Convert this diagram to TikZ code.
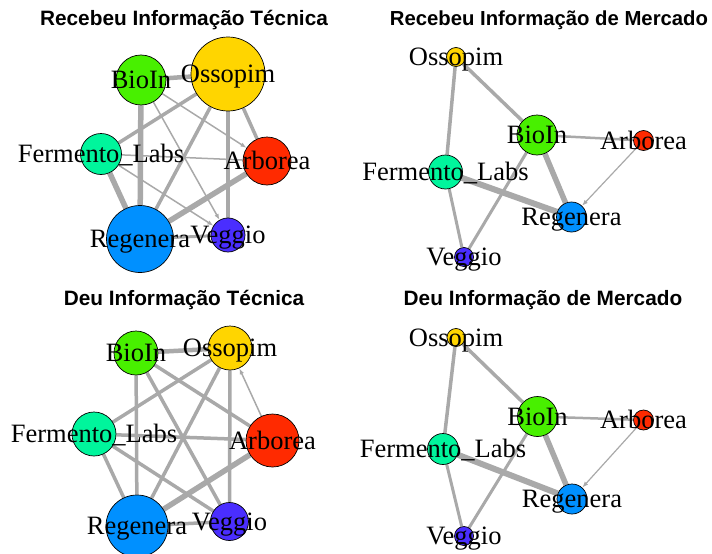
\documentclass[tikz,border=0pt]{standalone}
\usepackage{fontspec}
\setmainfont{Liberation Serif}
\newfontfamily\ttlfont{Liberation Sans}
\usetikzlibrary{arrows.meta}
\definecolor{edgegray}{HTML}{A9A9A9}
\definecolor{cBio}{HTML}{48F000}
\definecolor{cOss}{HTML}{FFD500}
\definecolor{cFer}{HTML}{00F59C}
\definecolor{cArb}{HTML}{FF2A00}
\definecolor{cReg}{HTML}{0090FF}
\definecolor{cVeg}{HTML}{4A2EFF}
\pgfdeclarelayer{bg}
\pgfdeclarelayer{fg}
\pgfsetlayers{bg,main,fg}
\tikzset{
  vtx/.style={circle, draw=black, line width=0.7pt, inner sep=0pt, minimum size=#1},
  edg/.style={draw=edgegray, line width=#1},
  arr/.style={-{Latex[length=6pt,width=4.5pt]}},
  lbl/.style={anchor=base, inner sep=0pt, yshift=-8.5pt, font=\fontsize{26.5}{26.5}\selectfont},
  ttl/.style={anchor=base, inner sep=0pt, font=\ttlfont\bfseries\fontsize{20.8}{20.8}\selectfont}
}
\begin{document}
\begin{tikzpicture}[x=1pt,y=-1pt]
\useasboundingbox (0,0) rectangle (712,554);
% titles
\node[ttl] (t1) at (184,25) {Recebeu Informação Técnica};
\node[ttl, font=\ttlfont\bfseries\fontsize{20.3}{20.3}\selectfont] (t2) at (549,25) {Recebeu Informação de Mercado};
\node[ttl] (t3) at (184,305) {Deu Informação Técnica};
\node[ttl] (t4) at (543,305) {Deu Informação de Mercado};
% ---------- panel A (top left)
\node[vtx=50, fill=cBio] (aBio) at (141,80) {};
\node[vtx=74, fill=cOss] (aOss) at (228,74) {};
\node[vtx=41, fill=cFer] (aFer) at (101,154) {};
\node[vtx=48, fill=cArb] (aArb) at (267,161) {};
\node[vtx=67, fill=cReg] (aReg) at (140,239) {};
\node[vtx=34, fill=cVeg] (aVeg) at (228,235) {};
% ---------- panel B (top right)
\node[vtx=19, fill=cOss] (bOss) at (456,57) {};
\node[vtx=40, fill=cBio] (bBio) at (537,135) {};
\node[vtx=20, fill=cArb] (bArb) at (643.5,140.5) {};
\node[vtx=34, fill=cFer] (bFer) at (445.5,172) {};
\node[vtx=30, fill=cReg] (bReg) at (571.5,217) {};
\node[vtx=19, fill=cVeg] (bVeg) at (464,257) {};
% ---------- panel C (bottom left)
\node[vtx=44, fill=cBio] (cBio) at (136,353) {};
\node[vtx=44, fill=cOss] (cOss) at (230,348) {};
\node[vtx=44, fill=cFer] (cFer) at (94,434) {};
\node[vtx=53, fill=cArb] (cArb) at (272.5,440.5) {};
\node[vtx=62, fill=cReg] (cReg) at (137,526) {};
\node[vtx=38, fill=cVeg] (cVeg) at (229.5,521.5) {};
% ---------- panel D (bottom right)
\node[vtx=18, fill=cOss] (dOss) at (456,337.5) {};
\node[vtx=40, fill=cBio] (dBio) at (537.5,416.5) {};
\node[vtx=20, fill=cArb] (dArb) at (643.5,420) {};
\node[vtx=31, fill=cFer] (dFer) at (443,449) {};
\node[vtx=30, fill=cReg] (dReg) at (572,499) {};
\node[vtx=19, fill=cVeg] (dVeg) at (464,536) {};
% ---------- edges
\begin{pgfonlayer}{bg}
% A
\draw[edg=4.5] (aBio) -- (aOss);
\draw[edg=5.5] (aBio) -- (aReg);
\draw[edg=1.5,arr] (aBio) -- (aArb);
\draw[edg=1.5,arr] (aBio) -- (aVeg);
\draw[edg=3.5] (aOss) -- (aFer);
\draw[edg=3.5] (aOss) -- (aReg);
\draw[edg=3.5] (aOss) -- (aVeg);
\draw[edg=3.5] (aOss) -- (aArb);
\draw[edg=1.5] (aFer) -- (aArb);
\draw[edg=5.5] (aFer) -- (aReg);
\draw[edg=1.5,arr] (aFer) -- (aVeg);
\draw[edg=5.5] (aArb) -- (aReg);
\draw[edg=3] (aReg) -- (aVeg);
% B
\draw[edg=3.5] (bOss) -- (bBio);
\draw[edg=3.5] (bOss) -- (bFer);
\draw[edg=2.5] (bBio) -- (bArb);
\draw[edg=5.5] (bBio) -- (bReg);
\draw[edg=3] (bBio) -- (bVeg);
\draw[edg=6] (bFer) -- (bReg);
\draw[edg=3] (bFer) -- (bVeg);
\draw[edg=1.2,arr] (bArb) -- (bReg);
% C
\draw[edg=4.5] (cBio) -- (cOss);
\draw[edg=3.5] (cBio) -- (cReg);
\draw[edg=3.5] (cBio) -- (cArb);
\draw[edg=3.5] (cBio) -- (cVeg);
\draw[edg=3.5] (cOss) -- (cFer);
\draw[edg=3.5] (cOss) -- (cReg);
\draw[edg=3.5] (cOss) -- (cVeg);
\draw[edg=1.5,arr] (cArb) -- (cOss);
\draw[edg=3.5] (cFer) -- (cArb);
\draw[edg=3.5] (cFer) -- (cReg);
\draw[edg=3.5] (cFer) -- (cVeg);
\draw[edg=5.5] (cArb) -- (cReg);
\draw[edg=3.5] (cReg) -- (cVeg);
% D
\draw[edg=3.5] (dOss) -- (dBio);
\draw[edg=3.5] (dOss) -- (dFer);
\draw[edg=2.5] (dBio) -- (dArb);
\draw[edg=5.5] (dBio) -- (dReg);
\draw[edg=3] (dBio) -- (dVeg);
\draw[edg=6] (dFer) -- (dReg);
\draw[edg=3] (dFer) -- (dVeg);
\draw[edg=1.2,arr] (dArb) -- (dReg);
\end{pgfonlayer}
% ---------- labels
\begin{pgfonlayer}{fg}
\foreach \p in {a,b,c,d}{
  \node[lbl] (\p BioL) at (\p Bio) {BioIn};
  \node[lbl] (\p OssL) at (\p Oss) {Ossopim};
  \node[lbl] (\p FerL) at (\p Fer) {Fermento\_Labs};
  \node[lbl] (\p ArbL) at (\p Arb) {Arborea};
  \node[lbl] (\p RegL) at (\p Reg) {Regenera};
  \node[lbl] (\p VegL) at (\p Veg) {Veggio};
}
\end{pgfonlayer}
\end{tikzpicture}
\end{document}
